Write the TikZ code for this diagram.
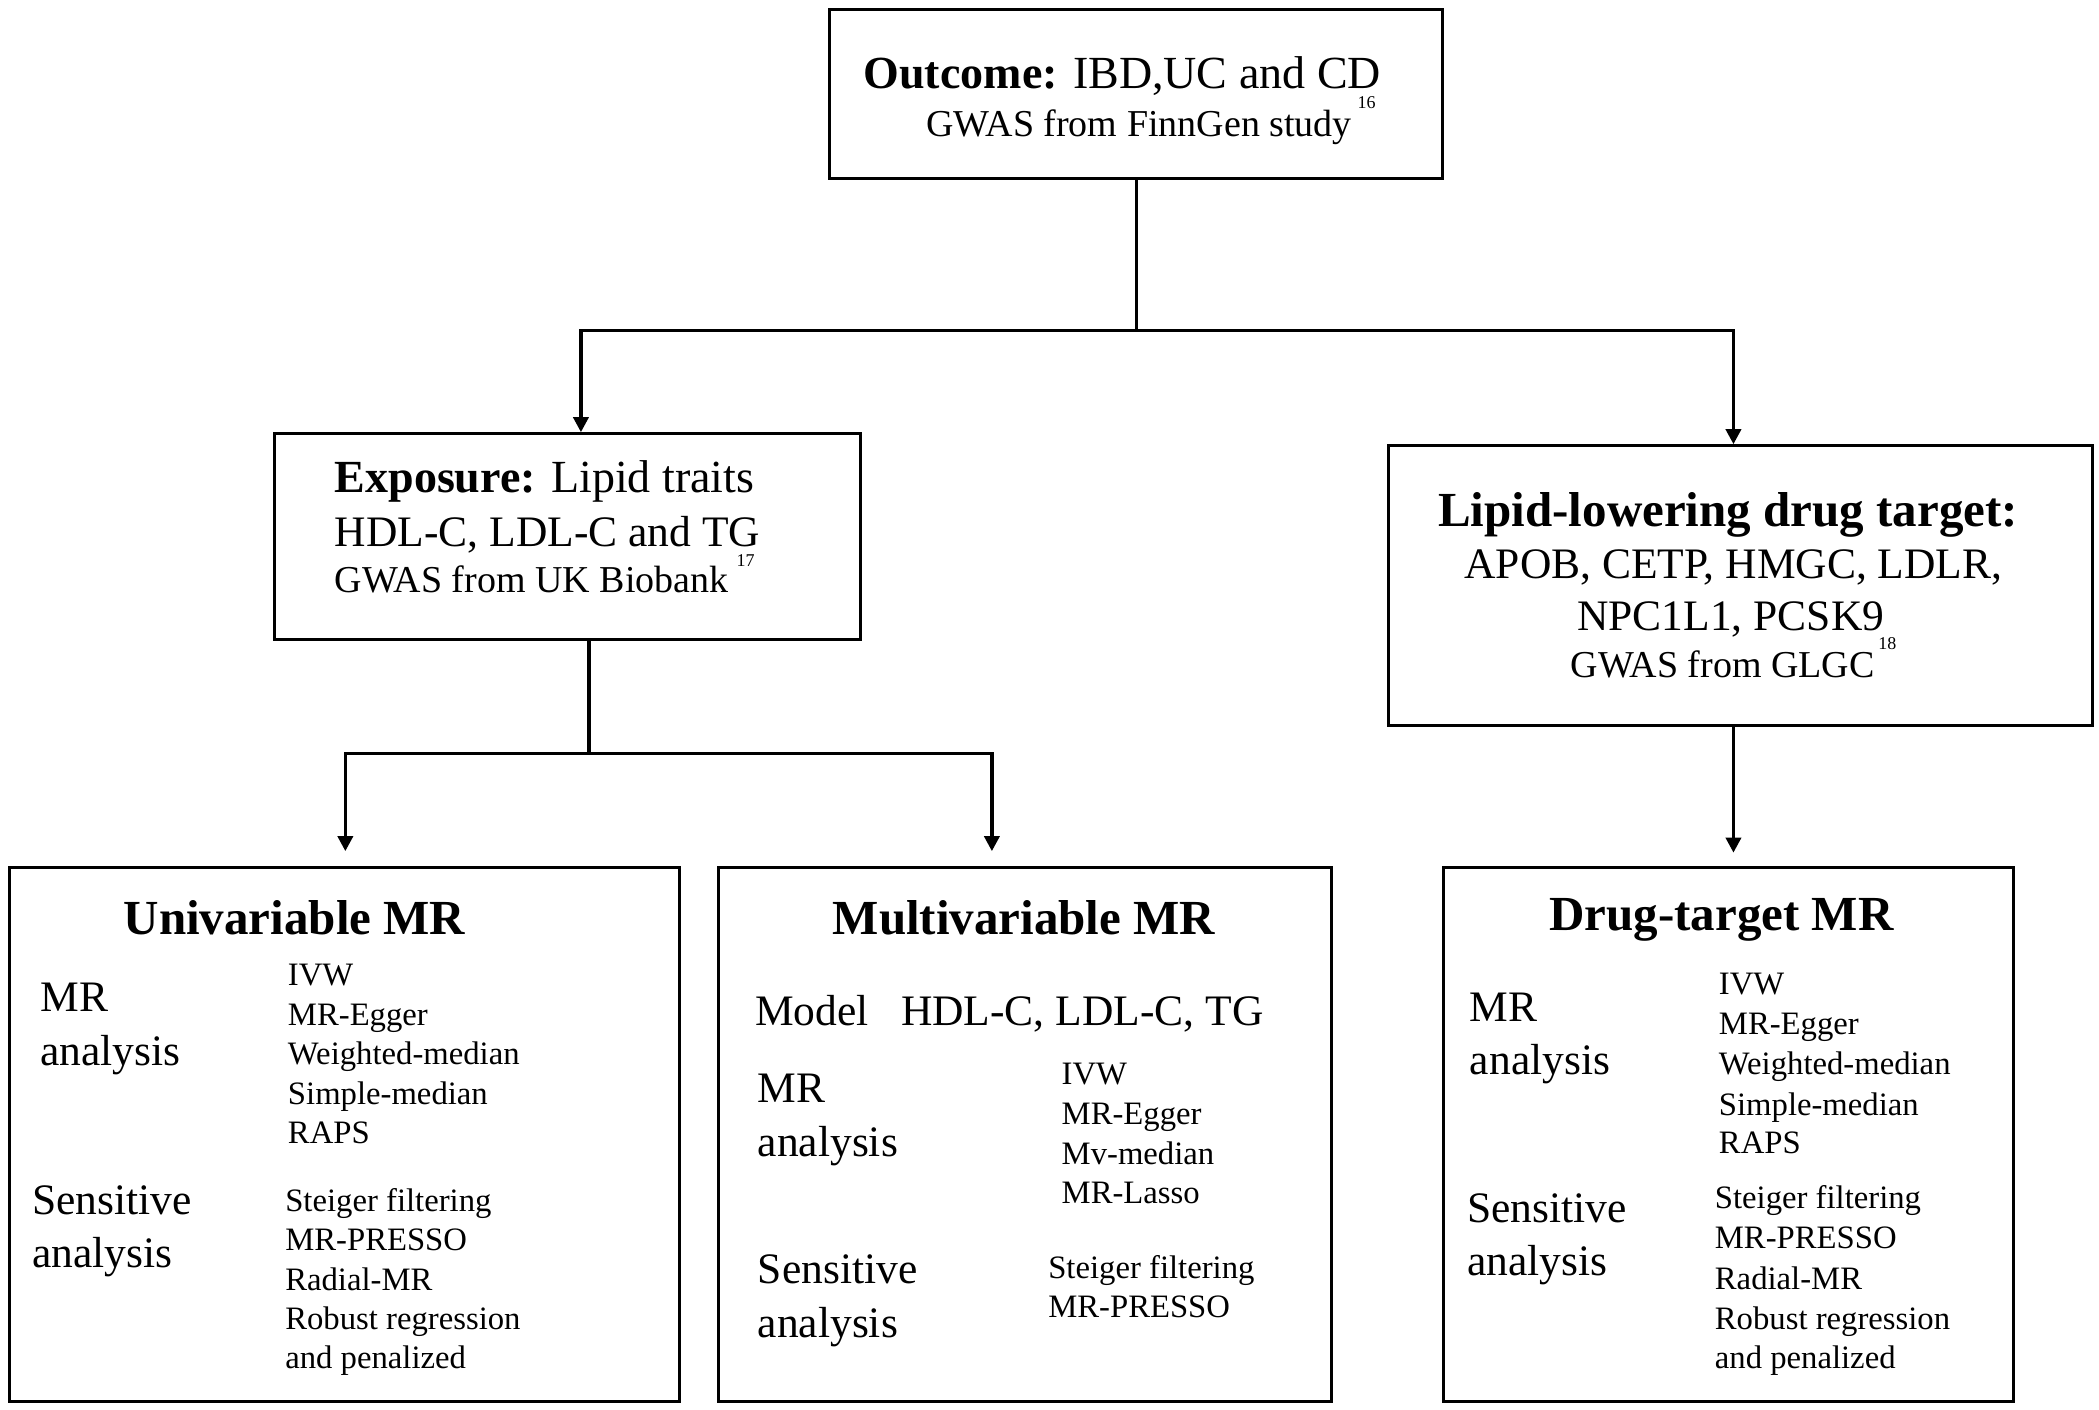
\documentclass[tikz,border=0pt]{standalone}
\usepackage{fontspec}
\setmainfont{Liberation Serif}
\usetikzlibrary{arrows.meta,calc}
\newcommand\fbig{\fontsize{49}{58}\selectfont\bfseries}
\newcommand\fhead{\fontsize{46}{55}\selectfont}
\newcommand\fmed{\fontsize{43.5}{52}\selectfont}
\newcommand\fsub{\fontsize{38}{46}\selectfont}
\newcommand\flist{\fontsize{32.7}{40}\selectfont}
\newcommand\fsup{\fontsize{18}{20}\selectfont}
\tikzset{
  box/.style={draw, line width=3pt, rectangle, inner sep=0pt},
  conn/.style={line width=3.5pt, line cap=rect},
  arr/.style={line width=3.5pt, -{Triangle[length=15pt,width=15pt]}},
  txt/.style={inner sep=0pt, anchor=base west},
  ctxt/.style={inner sep=0pt, anchor=base},
  sup/.style={inner sep=0pt, anchor=center, font=\fsup}
}
\begin{document}
\begin{tikzpicture}[x=1.3386pt,y=-1.3386pt]
\useasboundingbox (0,0) rectangle (1568.1,1053.3);
\fill[white] (0,0) rectangle (1568.1,1053.3);

% boxes
\node[box, minimum width=613pt, minimum height=168.7pt] (outcome) at (849,70) {};
\node[box, minimum width=586.3pt, minimum height=206.1pt] (expo) at (424,401) {};
\node[box, minimum width=704.1pt, minimum height=279.8pt] (drug) at (1300,437.5) {};
\node[box, minimum width=670.6pt, minimum height=534.1pt] (uni) at (257.5,847.5) {};
\node[box, minimum width=613.1pt, minimum height=534.1pt] (multi) at (766,847.5) {};
\node[box, minimum width=570.2pt, minimum height=534.1pt] (dmr) at (1291,847.5) {};

% connectors
\coordinate (j1) at (849,247);
\coordinate (jl) at (434,247);
\coordinate (jr) at (1295,247);
\draw[conn] (outcome.south) -- (j1);
\draw[conn] (jl) -- (jr);
\draw[arr] (jl) -- (jl |- expo.north);
\draw[arr] (jr) -- (jr |- drug.north);

\coordinate (k1) at (440,563);
\coordinate (kl) at (258,563);
\coordinate (kr) at (741,563);
\coordinate (ke) at (1295,637);
\draw[conn] (expo.south -| k1) -- (k1);
\draw[conn] (kl) -- (kr);
\draw[arr] (kl) -- ($(kl |- uni.north)+(0,-11)$);
\draw[arr] (kr) -- ($(kr |- multi.north)+(0,-11)$);
\draw[arr] (drug.south -| ke) -- (ke);

% outcome text
\node[txt] (o1) at (645,66) {\fhead\textbf{Outcome:} IBD,UC and CD};
\node[txt] (o2) at (692,102) {\fsub GWAS from FinnGen study};
\node[sup] (o3) at (1021,77) {16};

% exposure text
\node[txt] (e1) at (250,368) {\fhead\textbf{Exposure:} Lipid traits};
\node[txt] (e2) at (250,408) {\fmed HDL-C, LDL-C and TG};
\node[txt] (e3) at (250,443) {\fsub GWAS from UK Biobank};
\node[sup] (e4) at (557,419) {17};

% drug text
\node[ctxt] (d1) at (1291,393) {\fbig Lipid-lowering drug target:};
\node[ctxt] (d2) at (1295,432) {\fmed APOB, CETP, HMGC, LDLR,};
\node[ctxt] (d3) at (1293,471) {\fmed NPC1L1, PCSK9};
\node[ctxt] (d4) at (1287,506) {\fsub GWAS from GLGC};
\node[sup] (d5) at (1410,481) {18};

% univariable
\node[ctxt] (u0) at (220,698) {\fbig Univariable MR};
\node[txt] (u1) at (30,756) {\fmed MR};
\node[txt] (u2) at (30,796) {\fmed analysis};
\node[txt] (u3) at (24,907) {\fmed Sensitive};
\node[txt] (u4) at (24,947) {\fmed analysis};
\node[txt] (ua) at (215,736) {\flist IVW};
\node[txt] (ub) at (215,766) {\flist MR-Egger};
\node[txt] (uc) at (215,795) {\flist Weighted-median};
\node[txt] (ud) at (215,825) {\flist Simple-median};
\node[txt] (ue) at (215,854) {\flist RAPS};
\node[txt] (uf) at (213,905) {\flist Steiger filtering};
\node[txt] (ug) at (213,934) {\flist MR-PRESSO};
\node[txt] (uh) at (213,964) {\flist Radial-MR};
\node[txt] (ui) at (213,993) {\flist Robust regression};
\node[txt] (uj) at (213,1022) {\flist and penalized};

% multivariable
\node[ctxt] (m0) at (765,698) {\fbig Multivariable MR};
\node[txt] (m1) at (564,766) {\fmed Model};
\node[txt] (m2) at (673,766) {\fmed HDL-C, LDL-C, TG};
\node[txt] (m3) at (566,824) {\fmed MR};
\node[txt] (m4) at (566,864) {\fmed analysis};
\node[txt] (m5) at (566,959) {\fmed Sensitive};
\node[txt] (m6) at (566,999) {\fmed analysis};
\node[txt] (ma) at (793,810) {\flist IVW};
\node[txt] (mb) at (793,840) {\flist MR-Egger};
\node[txt] (mc) at (793,870) {\flist Mv-median};
\node[txt] (md) at (793,899) {\flist MR-Lasso};
\node[txt] (me) at (783,955) {\flist Steiger filtering};
\node[txt] (mf) at (783,984) {\flist MR-PRESSO};

% drug-target MR
\node[ctxt] (t0) at (1286,695) {\fbig Drug-target MR};
\node[txt] (t1) at (1098,763) {\fmed MR};
\node[txt] (t2) at (1098,803) {\fmed analysis};
\node[txt] (t3) at (1096,913) {\fmed Sensitive};
\node[txt] (t4) at (1096,953) {\fmed analysis};
\node[txt] (ta) at (1284,743) {\flist IVW};
\node[txt] (tb) at (1284,773) {\flist MR-Egger};
\node[txt] (tc) at (1284,803) {\flist Weighted-median};
\node[txt] (td) at (1284,833) {\flist Simple-median};
\node[txt] (te) at (1284,862) {\flist RAPS};
\node[txt] (tf) at (1281,903) {\flist Steiger filtering};
\node[txt] (tg) at (1281,933) {\flist MR-PRESSO};
\node[txt] (th) at (1281,963) {\flist Radial-MR};
\node[txt] (ti) at (1281,993) {\flist Robust regression};
\node[txt] (tj) at (1281,1022) {\flist and penalized};
\end{tikzpicture}
\end{document}
